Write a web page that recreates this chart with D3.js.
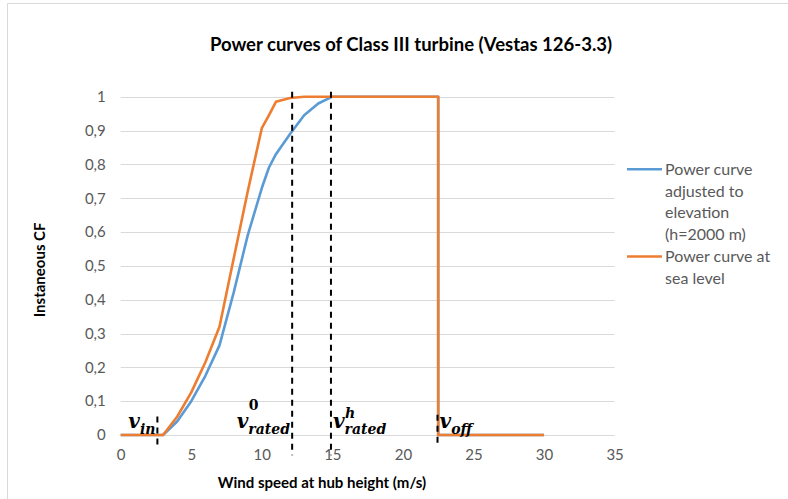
<!DOCTYPE html>
<html>
<head>
<meta charset="utf-8">
<script src="https://cdn.jsdelivr.net/npm/d3@7"></script>
<style>
  html, body { margin: 0; padding: 0; background: #fff; }
  svg { display: block; }
</style>
</head>
<body>
<svg id="chart" width="788" height="499"></svg>
<script>
// ---- Data ----
const windSpeed = [0, 1, 2, 3, 4, 5, 6, 7, 8, 9, 10, 10.5, 11, 12, 13, 14, 15, 16, 17, 18, 19, 20, 21, 22, 22.5, 22.5, 23, 24, 25, 26, 27, 28, 29, 30];
const cfElevation = [0, 0, 0, 0, 0.04, 0.10, 0.175, 0.265, 0.42, 0.59, 0.73, 0.79, 0.83, 0.89, 0.945, 0.98, 1, 1, 1, 1, 1, 1, 1, 1, 1, 0, 0, 0, 0, 0, 0, 0, 0, 0];
const cfSeaLevel  = [0, 0, 0, 0, 0.054, 0.126, 0.215, 0.32, 0.52, 0.72, 0.907, 0.945, 0.985, 0.996, 1, 1, 1, 1, 1, 1, 1, 1, 1, 1, 1, 0, 0, 0, 0, 0, 0, 0, 0, 0];
const seriesNames = [["Power curve", "adjusted to", "elevation", "(h=2000 m)"], ["Power curve at", "sea level"]];
const xTicks = [0, 5, 10, 15, 20, 25, 30, 35];
const yTicks = [0, 0.1, 0.2, 0.3, 0.4, 0.5, 0.6, 0.7, 0.8, 0.9, 1];
const markerSpeed = [2.6, 12.15, 14.9, 22.45];
const markerTop = [0.055, 1.015, 1.015, 0.06];
const markerBottom = [-0.037, -0.06, -0.06, -0.033];
const markerSub = ["in", "rated", "rated", "off"];
const markerSup = ["", "0", "h", ""];
const markerSide = ["left", "left", "right", "right"];
const titleText = "Power curves of Class III turbine (Vestas 126-3.3)";
const xTitle = "Wind speed at hub height (m/s)";
const yTitle = "Instaneous CF";

// ---- Setup ----
const svg = d3.select("#chart");
const W = 788, H = 499;
const x = d3.scaleLinear().domain([0, 35]).range([120.7, 614.6]);
const y = d3.scaleLinear().domain([0, 1]).range([435, 96.7]);
const grey = "#595959";
const font = "Lato, 'Open Sans', sans-serif";
const blue = "#5B9BD5", orange = "#ED7D31";

// outer border (top and left visible)
svg.append("line").attr("x1", 7.5).attr("x2", W).attr("y1", 3.5).attr("y2", 3.5).attr("stroke", "#d9d9d9");
svg.append("line").attr("x1", 7.5).attr("x2", 7.5).attr("y1", 3.5).attr("y2", H).attr("stroke", "#d9d9d9");

// gridlines
svg.append("g").selectAll("line").data(yTicks).join("line")
  .attr("x1", x(0)).attr("x2", x(35))
  .attr("y1", d => Math.round(y(d)) + 0.5).attr("y2", d => Math.round(y(d)) + 0.5)
  .attr("stroke", "#d9d9d9").attr("stroke-width", 1);

// y axis labels
const fmt = d => d3.format(".1~f")(d).replace(".", ",");
const yAxis = d3.axisLeft(y).tickValues(yTicks).tickFormat(fmt).tickSize(0).tickPadding(15);
const gy = svg.append("g").attr("transform", `translate(${x(0)},0)`).call(yAxis);
gy.select(".domain").remove();
gy.selectAll("text").attr("fill", grey).attr("font-family", font).attr("font-size", 15);

// x axis labels
const xAxis = d3.axisBottom(x).tickValues(xTicks).tickFormat(d3.format("d")).tickSize(0).tickPadding(14);
const gx = svg.append("g").attr("transform", `translate(0,${y(0)})`).call(xAxis);
gx.select(".domain").remove();
gx.selectAll("text").attr("fill", grey).attr("font-family", font).attr("font-size", 15);

// lines
const pts = vals => windSpeed.map((w, i) => [w, vals[i]]);
const line = d3.line().x(d => x(d[0])).y(d => y(d[1]));
svg.append("path").datum(pts(cfElevation)).attr("d", line)
  .attr("fill", "none").attr("stroke", blue).attr("stroke-width", 2.6).attr("stroke-linejoin", "round");
svg.append("path").datum(pts(cfSeaLevel)).attr("d", line)
  .attr("fill", "none").attr("stroke", orange).attr("stroke-width", 2.6).attr("stroke-linejoin", "round");

// marker dashed lines
svg.append("g").selectAll("line").data(markerSpeed).join("line")
  .attr("x1", d => x(d)).attr("x2", d => x(d))
  .attr("y1", (d, i) => y(markerTop[i])).attr("y2", (d, i) => y(markerBottom[i]))
  .attr("stroke", "#000").attr("stroke-width", 2).attr("stroke-dasharray", "6,5");

// marker labels
const mathFont = "'DejaVu Serif', 'Liberation Serif', serif";
const supDy = [0, -18, -10, 0];
markerSpeed.forEach((s, i) => {
  const g = svg.append("g");
  const v = g.append("text").text("v").attr("font-family", mathFont).attr("font-style", "italic")
    .attr("font-weight", "bold").attr("font-size", 20).attr("x", 0).attr("y", 0);
  const vw = v.node().getComputedTextLength();
  g.append("text").text(markerSub[i]).attr("font-family", mathFont).attr("font-style", "italic")
    .attr("font-weight", "bold").attr("font-size", 14).attr("x", vw).attr("y", 6);
  if (markerSup[i]) {
    const isDigit = /\d/.test(markerSup[i]);
    g.append("text").text(markerSup[i]).attr("font-family", mathFont)
      .attr("font-style", isDigit ? "normal" : "italic")
      .attr("font-weight", "bold").attr("font-size", 14).attr("x", vw + 0.5).attr("y", supDy[i]);
  }
  const bb = g.node().getBBox();
  const totalW = bb.x + bb.width;
  const bx = markerSide[i] === "left" ? x(s) - totalW - 2 : x(s) + 2;
  g.attr("transform", `translate(${bx},${y(0) - 7})`);
});

// title
svg.append("text").text(titleText).attr("x", 411).attr("y", 51)
  .attr("text-anchor", "middle").attr("font-family", font).attr("font-weight", "bold")
  .attr("font-size", 18.5).attr("fill", "#000");

// axis titles
svg.append("text").text(xTitle).attr("x", 322).attr("y", 488)
  .attr("text-anchor", "middle").attr("font-family", font).attr("font-weight", "bold")
  .attr("font-size", 15).attr("fill", "#000");
svg.append("text").text(yTitle)
  .attr("transform", `translate(45,${(y(0) + y(1)) / 2 + 4}) rotate(-90)`)
  .attr("text-anchor", "middle").attr("font-family", font).attr("font-weight", "bold")
  .attr("font-size", 15).attr("fill", "#000");

// legend
const legColors = [blue, orange];
let ly = 169.3;
seriesNames.forEach((lines, k) => {
  svg.append("line").attr("x1", 627).attr("x2", 662).attr("y1", ly).attr("y2", ly)
    .attr("stroke", legColors[k]).attr("stroke-width", 2.6);
  lines.forEach((t, j) => {
    svg.append("text").text(t).attr("x", 665).attr("y", ly + j * 21.8 + 5.5)
      .attr("font-family", font).attr("font-size", 16).attr("fill", grey);
  });
  ly += lines.length * 21.8;
});
</script>
</body>
</html>
